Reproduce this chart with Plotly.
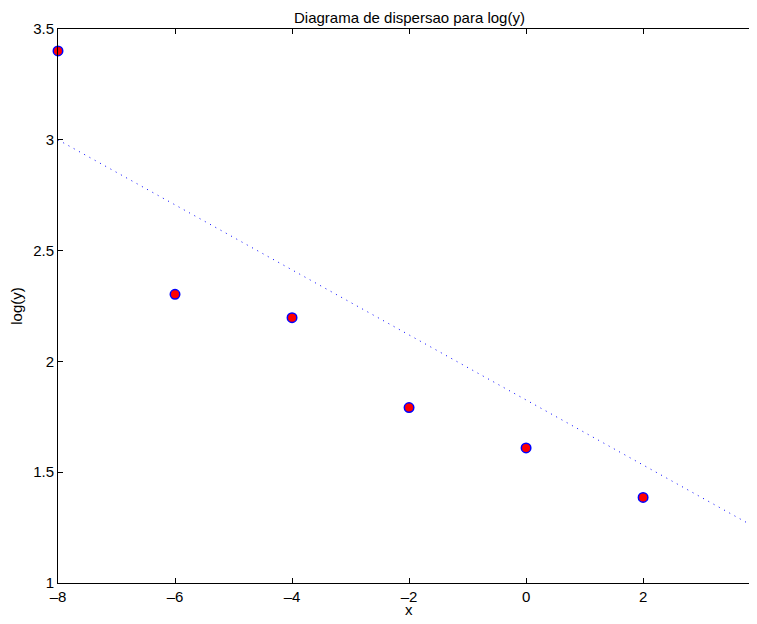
import plotly.graph_objects as go

x_vals = [-8, -6, -4, -2, 0, 2, 4]
logy_vals = [3.4012, 2.3026, 2.1972, 1.7918, 1.6094, 1.3863, 1.3863]
fit_x = [-8, 4]
fit_y = [3.0, 1.239]
x_ticks = [-8, -6, -4, -2, 0, 2, 4]
x_tick_text = ["–8", "–6", "–4", "–2", "0", "2", "4"]
y_ticks = [1, 1.5, 2, 2.5, 3, 3.5]
y_tick_text = ["1", "1.5", "2", "2.5", "3", "3.5"]
title_text = "Diagrama de dispersao para log(y)"
x_label = "x"
y_label = "log(y)"

W, H = 741, 608
L, T, B = 50, 21, 33
plot_h = H - T - B

fig = go.Figure()
fig.add_trace(go.Scatter(
    x=fit_x, y=fit_y, mode="lines",
    line=dict(color="blue", width=1, dash="1px,5px"),
    showlegend=False))
fig.add_trace(go.Scatter(
    x=x_vals, y=logy_vals, mode="markers",
    marker=dict(size=9.5, color="red", line=dict(color="blue", width=1.5)),
    showlegend=False, cliponaxis=False))

font = "Liberation Sans, Arial, Helvetica, sans-serif"
fig.update_layout(
    width=W, height=H,
    margin=dict(l=L, r=0, t=T, b=B, autoexpand=False),
    paper_bgcolor="white", plot_bgcolor="white",
    font=dict(family=font, size=15, color="black"),
    annotations=[
        dict(text=title_text, xref="x", x=-2, yref="paper", y=1 + T / plot_h,
             yanchor="top", xanchor="center", showarrow=False, yshift=1,
             font=dict(size=15, family=font, color="black")),
        dict(text=x_label, xref="x", x=-2, yref="paper", y=-B / plot_h,
             yanchor="bottom", xanchor="center", showarrow=False, yshift=-4,
             font=dict(size=15, family=font, color="black")),
    ],
)
fig.update_xaxes(
    range=[-8, 3.81], tickvals=x_ticks, ticktext=x_tick_text,
    ticks="inside", ticklen=5,
    tickcolor="black", showline=True, linecolor="black", linewidth=1,
    mirror="ticks", showgrid=False, zeroline=False, automargin=False,
    tickfont=dict(size=15))
fig.update_yaxes(
    range=[1, 3.5], tickvals=y_ticks, ticktext=y_tick_text,
    ticks="inside", ticklen=5, tickcolor="black", showline=True,
    linecolor="black", linewidth=1, mirror=False, showgrid=False,
    zeroline=False, automargin=False,
    title=dict(text=y_label, standoff=8, font=dict(size=15)),
    tickfont=dict(size=15))

fig.write_html("out.html")
